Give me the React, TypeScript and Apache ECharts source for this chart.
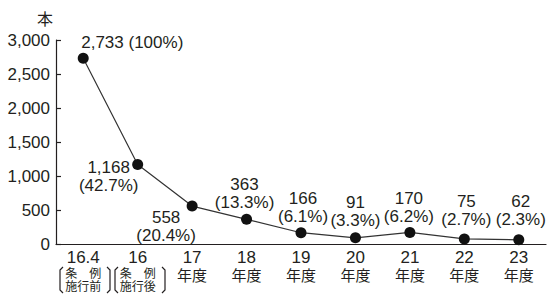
import React, { useEffect, useRef } from "react";
import * as echarts from "echarts";

const categories = ["16.4", "16", "17", "18", "19", "20", "21", "22", "23"];
const subLabels = [["条　例", "施行前"], ["条　例", "施行後"], ["年度"], ["年度"], ["年度"], ["年度"], ["年度"], ["年度"], ["年度"]];
const values = [2733, 1168, 558, 363, 166, 91, 170, 75, 62];
const percents = ["100%", "42.7%", "20.4%", "13.3%", "6.1%", "3.3%", "6.2%", "2.7%", "2.3%"];
const yTicks = [0, 500, 1000, 1500, 2000, 2500, 3000];

const labelOffsets: [number, number][] = [
  [-2, -16], [-29, 12], [-26, 20], [-2, -26], [2, -25], [0, -26], [-1, -25], [2, -28], [2, -29],
];

const FONT = '"Liberation Sans", "Noto Sans CJK JP", sans-serif';
const JP = '"Noto Sans CJK JP", sans-serif';
const INK = "#231f20";

function fmt(n: number) {
  return n.toLocaleString("en-US");
}

export default function App() {
  const ref = useRef<HTMLDivElement>(null);
  useEffect(() => {
    if (!ref.current) return;
    const chart = echarts.init(ref.current, undefined, { renderer: "svg" });
    const data = values.map((v, i) => ({
      value: v,
      label: {
        show: true,
        position: "inside",
        offset: labelOffsets[i],
        align: i === 0 ? "left" : "center",
        verticalAlign: "middle",
        formatter: i === 0 ? `${fmt(v)} (${percents[i]})` : `${fmt(v)}\n(${percents[i]})`,
        fontSize: 17,
        lineHeight: 18,
        color: INK,
        fontFamily: FONT,
      },
    }));
    const bracket = (x: number, dir: number) => ({
      type: "polyline",
      shape: {
        points: [
          [x + 3 * dir, 267],
          [x, 270],
          [x, 290],
          [x + 3 * dir, 293],
        ],
      },
      style: { stroke: INK, lineWidth: 1.2, fill: "none" },
    });
    chart.setOption({
      animation: false,
      grid: { left: 56, right: 1, top: 40, bottom: 51 },
      graphic: [
        { type: "text", left: 37, top: 10, style: { text: "本", fontSize: 16, fill: INK, fontFamily: JP } },
        bracket(60, 1), bracket(110, -1), bracket(115, 1), bracket(165, -1),
      ],
      xAxis: {
        type: "category",
        data: categories,
        boundaryGap: true,
        axisLine: { lineStyle: { color: INK, width: 1.2 } },
        axisTick: { inside: true, length: 5, lineStyle: { color: INK, width: 1.2 } },
        axisLabel: {
          interval: 0,
          margin: 5,
          color: INK,
          formatter: (v: string, i: number) => {
            const subs = subLabels[i];
            if (subs.length === 2) return `{n|${v}}\n{s|${subs[0]}}\n{s|${subs[1]}}`;
            return `{n|${v}}\n{y|${subs[0]}}`;
          },
          rich: {
            n: { fontSize: 17, lineHeight: 17, fontFamily: FONT, color: INK },
            s: { fontSize: 12, lineHeight: 13, fontFamily: JP, color: INK },
            y: { fontSize: 15, lineHeight: 16, fontFamily: JP, color: INK },
          },
        },
      },
      yAxis: {
        type: "value",
        min: 0,
        max: 3000,
        interval: 500,
        splitLine: { show: false },
        axisLine: { show: true, lineStyle: { color: INK, width: 1.2 } },
        axisTick: { show: true, inside: true, length: 5, lineStyle: { color: INK, width: 1.2 } },
        axisLabel: {
          margin: 6,
          fontSize: 17,
          color: INK,
          fontFamily: FONT,
          formatter: (v: number) => (yTicks.includes(v) ? fmt(v) : ""),
        },
      },
      series: [
        {
          type: "line",
          data,
          symbol: "circle",
          symbolSize: 11,
          itemStyle: { color: "#111" },
          lineStyle: { color: "#333", width: 1.2 },
          z: 3,
        },
      ],
    });
    return () => chart.dispose();
  }, []);
  return <div ref={ref} style={{ position: "absolute", left: 0, top: 0, width: 547, height: 295 }} />;
}
